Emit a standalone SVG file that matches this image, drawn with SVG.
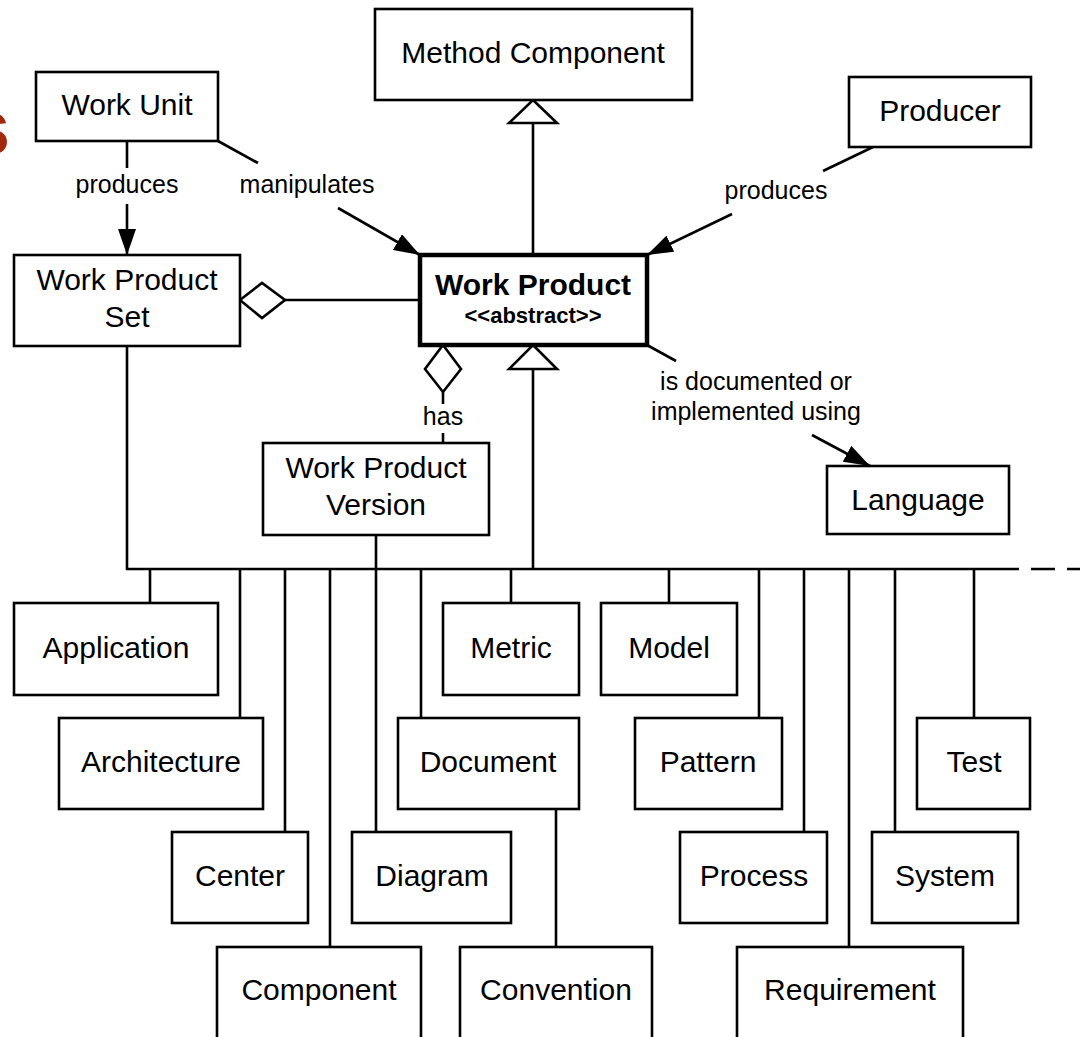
<svg xmlns="http://www.w3.org/2000/svg" width="1080" height="1037" viewBox="0 0 1080 1037">
<style>
.box{fill:#fff;stroke:#000;stroke-width:2.6}
.wp{fill:#fff;stroke:#000;stroke-width:4.5}
.t{font-family:"Liberation Sans",Arial,sans-serif;font-size:30px;fill:#000;text-anchor:middle}
.b{font-weight:bold}
.st{font-size:22px}
.lb{font-family:"Liberation Sans",Arial,sans-serif;font-size:25px;fill:#000;text-anchor:middle}
.ln{fill:none;stroke:#000;stroke-width:2.6}
.hollow{fill:#fff;stroke:#000;stroke-width:2.6;stroke-linejoin:miter}
</style>
<defs>
<marker id="arrow" viewBox="0 0 26 18" refX="26" refY="9" markerWidth="26" markerHeight="18" markerUnits="userSpaceOnUse" orient="auto">
<path d="M0,0 L26,9 L0,18 z" fill="#000"/>
</marker>
</defs>
<rect width="1080" height="1037" fill="#fff"/>
<text x="10" y="154" font-family="Liberation Sans,Arial,sans-serif" font-weight="bold" font-size="77" fill="#a3290d" text-anchor="end">s</text>

<g id="connectors">
  <line class="ln" x1="127" y1="141" x2="127" y2="168"/>
  <line class="ln" x1="127" y1="204" x2="127" y2="255" marker-end="url(#arrow)"/>
  <text class="lb" x="127" y="193">produces</text>
  <line class="ln" x1="218" y1="141" x2="258" y2="163"/>
  <line class="ln" x1="338" y1="208" x2="420" y2="255" marker-end="url(#arrow)"/>
  <text class="lb" x="307" y="193">manipulates</text>
  <line class="ln" x1="873" y1="147" x2="823" y2="171"/>
  <line class="ln" x1="732" y1="214" x2="647" y2="255" marker-end="url(#arrow)"/>
  <text class="lb" x="776" y="199">produces</text>
  <line class="ln" x1="647" y1="345" x2="676" y2="361"/>
  <line class="ln" x1="812" y1="435" x2="870" y2="466" marker-end="url(#arrow)"/>
  <text class="lb" x="756" y="390">is documented or</text>
  <text class="lb" x="756" y="420">implemented using</text>
  <line class="ln" x1="533" y1="123" x2="533" y2="255"/>
  <polygon class="hollow" points="533,100 557,123 509,123"/>
  <line class="ln" x1="285" y1="300" x2="420" y2="300"/>
  <polygon class="hollow" points="240,300 262,283 285,300 262,318"/>
  <polygon class="hollow" points="443,345 461,369 443,392 425,369"/>
  <line class="ln" x1="443" y1="392" x2="443" y2="404"/>
  <line class="ln" x1="443" y1="433" x2="443" y2="443"/>
  <text class="lb" x="443" y="425">has</text>
  <line class="ln" x1="533" y1="369" x2="533" y2="569"/>
  <polygon class="hollow" points="533,345 557,369 509,369"/>
  <line class="ln" x1="127" y1="346" x2="127" y2="570"/>
  <line class="ln" x1="126" y1="569" x2="995" y2="569"/>
  <line class="ln" x1="995" y1="569" x2="1080" y2="569" stroke-dasharray="24,12"/>
  <line class="ln" x1="376" y1="535" x2="376" y2="832"/>
  <line class="ln" x1="150" y1="569" x2="150" y2="603"/>
  <line class="ln" x1="240" y1="569" x2="240" y2="718"/>
  <line class="ln" x1="285" y1="569" x2="285" y2="832"/>
  <line class="ln" x1="330" y1="569" x2="330" y2="947"/>
  <line class="ln" x1="421" y1="569" x2="421" y2="718"/>
  <line class="ln" x1="511" y1="569" x2="511" y2="603"/>
  <line class="ln" x1="669" y1="569" x2="669" y2="603"/>
  <line class="ln" x1="759" y1="569" x2="759" y2="718"/>
  <line class="ln" x1="804" y1="569" x2="804" y2="832"/>
  <line class="ln" x1="849" y1="569" x2="849" y2="947"/>
  <line class="ln" x1="895" y1="569" x2="895" y2="832"/>
  <line class="ln" x1="974" y1="569" x2="974" y2="718"/>
  <line class="ln" x1="556" y1="809" x2="556" y2="947"/>
</g>

<g id="method-component"><rect class="box" x="375" y="9" width="317" height="91"/><text class="t" x="533" y="63">Method Component</text></g>
<g id="work-unit"><rect class="box" x="36" y="72" width="182" height="69"/><text class="t" x="127" y="115">Work Unit</text></g>
<g id="producer"><rect class="box" x="849" y="77" width="182" height="70"/><text class="t" x="940" y="121">Producer</text></g>
<g id="work-product-set"><rect class="box" x="14" y="255" width="226" height="91"/><text class="t" x="127" y="290">Work Product</text><text class="t" x="127" y="327">Set</text></g>
<g id="work-product"><rect class="wp" x="420" y="255" width="227" height="90"/><text class="t b" x="533" y="295">Work Product</text><text class="t b st" x="533" y="323">&lt;&lt;abstract&gt;&gt;</text></g>
<g id="work-product-version"><rect class="box" x="263" y="443" width="226" height="92"/><text class="t" x="376" y="478">Work Product</text><text class="t" x="376" y="515">Version</text></g>
<g id="language"><rect class="box" x="827" y="466" width="182" height="68"/><text class="t" x="918" y="510">Language</text></g>

<g id="application"><rect class="box" x="14" y="603" width="204" height="92"/><text class="t" x="116" y="658">Application</text></g>
<g id="metric"><rect class="box" x="443" y="603" width="136" height="92"/><text class="t" x="511" y="658">Metric</text></g>
<g id="model"><rect class="box" x="601" y="603" width="136" height="92"/><text class="t" x="669" y="658">Model</text></g>
<g id="architecture"><rect class="box" x="59" y="718" width="204" height="91"/><text class="t" x="161" y="772">Architecture</text></g>
<g id="document"><rect class="box" x="398" y="718" width="181" height="91"/><text class="t" x="488" y="772">Document</text></g>
<g id="pattern"><rect class="box" x="635" y="718" width="147" height="91"/><text class="t" x="708" y="772">Pattern</text></g>
<g id="test"><rect class="box" x="917" y="718" width="113" height="91"/><text class="t" x="974" y="772">Test</text></g>
<g id="center"><rect class="box" x="172" y="832" width="136" height="91"/><text class="t" x="240" y="886">Center</text></g>
<g id="diagram"><rect class="box" x="352" y="832" width="159" height="91"/><text class="t" x="432" y="886">Diagram</text></g>
<g id="process"><rect class="box" x="680" y="832" width="147" height="91"/><text class="t" x="754" y="886">Process</text></g>
<g id="system"><rect class="box" x="872" y="832" width="146" height="91"/><text class="t" x="945" y="886">System</text></g>
<g id="component"><rect class="box" x="217" y="947" width="204" height="92"/><text class="t" x="319" y="1000">Component</text></g>
<g id="convention"><rect class="box" x="460" y="947" width="192" height="92"/><text class="t" x="556" y="1000">Convention</text></g>
<g id="requirement"><rect class="box" x="737" y="947" width="226" height="92"/><text class="t" x="850" y="1000">Requirement</text></g>
</svg>
